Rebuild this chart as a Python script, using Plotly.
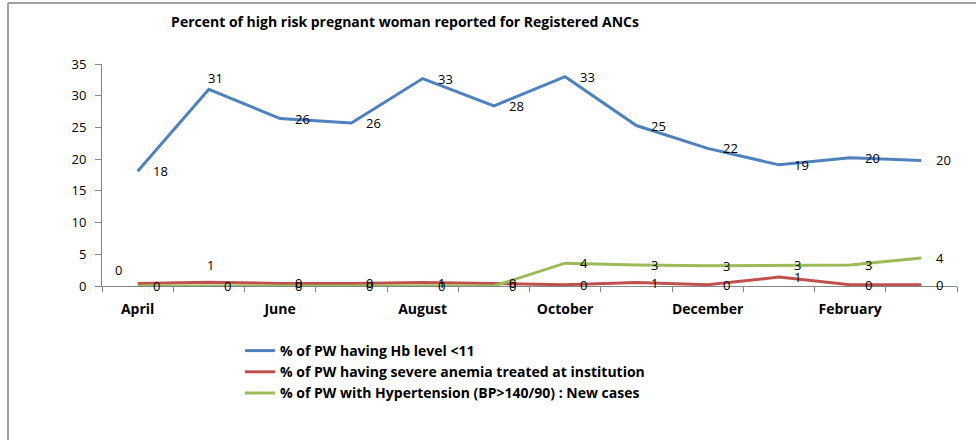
import plotly.graph_objects as go

months = ["April", "May", "June", "July", "August", "September",
          "October", "November", "December", "January", "February", "March"]

hb_low = [18.1, 31.0, 26.4, 25.7, 32.7, 28.4, 33.0, 25.3, 21.7, 19.1, 20.2, 19.8]
severe_anemia = [0.4, 0.6, 0.4, 0.4, 0.55, 0.4, 0.2, 0.55, 0.2, 1.4, 0.2, 0.2]
hypertension = [0.0, 0.0, 0.0, 0.0, 0.0, 0.0, 3.6, 3.3, 3.2, 3.3, 3.3, 4.4]

series_names = [
    "% of PW having Hb level <11",
    "% of PW having severe anemia treated at institution",
    "% of PW with Hypertension (BP>140/90) : New cases",
]
series_values = [hb_low, severe_anemia, hypertension]
series_colors = ["#4F81BD", "#C0504D", "#9BBB59"]

title_text = "Percent of high risk pregnant woman reported for Registered ANCs"
tick_text = [m if i % 2 == 0 else "" for i, m in enumerate(months)]

FONT = "'Open Sans', 'Noto Sans', sans-serif"

fig = go.Figure()
for name, vals, col in zip(series_names, series_values, series_colors):
    fig.add_trace(go.Scatter(
        x=months, y=vals, name=name, mode="lines",
        line=dict(color=col, width=3),
        hoverinfo="skip",
    ))

# manually moved data labels (series index, point index) -> (xshift, yshift)
label_moves = {(0, 1): (-3, 11), (1, 0): (-25, 13), (1, 1): (-4, 17)}

annotations = []
for si, vals in enumerate(series_values):
    for pi, v in enumerate(vals):
        xs, ys = label_moves.get((si, pi), (13, 0))
        annotations.append(dict(
            x=months[pi], y=v, xref="x", yref="y",
            text=str(int(v + 0.5)), showarrow=False,
            xanchor="left", yanchor="middle", xshift=xs, yshift=ys,
            font=dict(family=FONT, size=13, color="#000000"),
        ))

fig.update_layout(
    width=976, height=440,
    margin=dict(l=102, r=19, t=64, b=154),
    paper_bgcolor="white", plot_bgcolor="white",
    title=dict(text="<b>" + title_text + "</b>", x=405 / 976, xanchor="center",
               xref="container", y=1 - 22 / 440, yanchor="middle", yref="container",
               font=dict(family=FONT, size=14, color="#000000")),
    showlegend=True,
    legend=dict(x=(240 - 102) / 855, y=(286 - 335) / 222, xanchor="left", yanchor="top",
                font=dict(family=FONT, size=14, color="#000000", weight="bold"),
                bgcolor="rgba(0,0,0,0)", tracegroupgap=0, itemwidth=30),
    annotations=annotations,
    shapes=[
        dict(type="line", xref="paper", yref="paper", x0=-94 / 855, x1=874 / 855,
             y0=(286 - 3) / 222, y1=(286 - 3) / 222, line=dict(color="#A0A0A0", width=2)),
        dict(type="line", xref="paper", yref="paper", x0=-94 / 855, x1=-94 / 855,
             y0=(286 - 3) / 222, y1=-160 / 222, line=dict(color="#A0A0A0", width=2)),
    ],
)

fig.update_xaxes(
    type="category", categoryorder="array", categoryarray=months,
    tickmode="array", tickvals=months, ticktext=tick_text,
    tickson="boundaries", ticks="outside", ticklen=5, tickcolor="#868686",
    showline=True, linecolor="#868686", linewidth=1, showgrid=False, zeroline=False,
    tickfont=dict(family=FONT, size=14, color="#000000", weight="bold"),
    tickangle=0, range=[-0.5, 11.5], ticklabelstandoff=10,
)
fig.update_yaxes(
    range=[0, 35], dtick=5, tick0=0, ticks="outside", ticklen=6, tickcolor="#868686",
    showline=True, linecolor="#868686", linewidth=1, showgrid=False, zeroline=False,
    tickfont=dict(family=FONT, size=13, color="#000000"), ticklabelstandoff=6,
)

fig.write_html("out.html", config={"displayModeBar": False},
               post_script="document.body.style.margin='0px';")
